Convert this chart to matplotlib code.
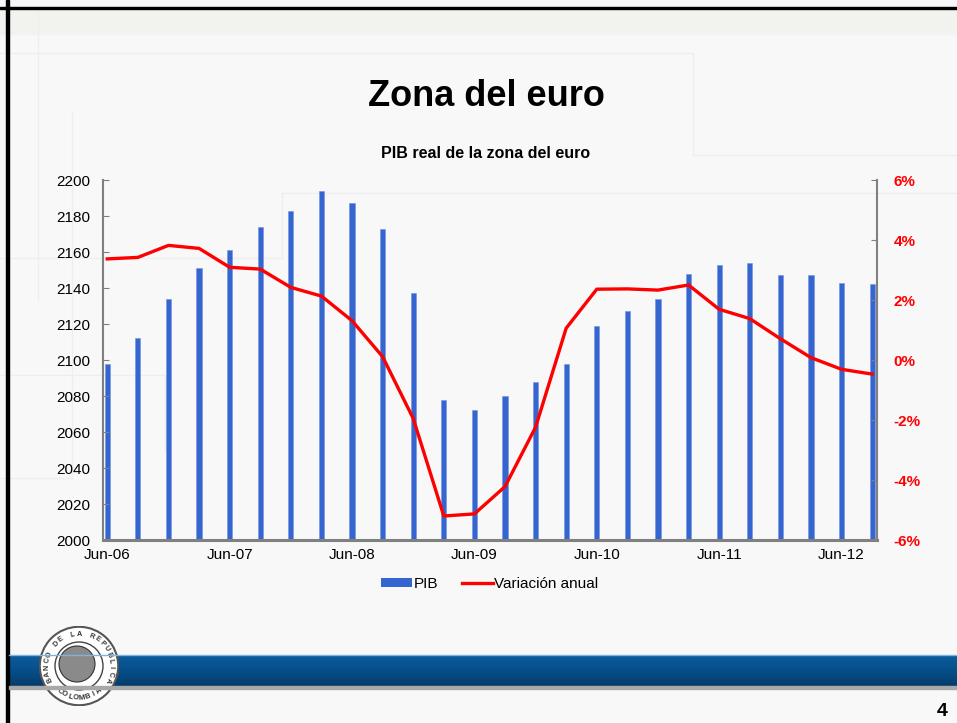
import numpy as np
import matplotlib
matplotlib.use('Agg')
import matplotlib.pyplot as plt
from matplotlib.patches import Patch, Rectangle, Circle
from matplotlib.lines import Line2D

plt.rcParams['font.family'] = ['Liberation Sans', 'DejaVu Sans']

# trimestres jun-06 .. sep-12
quarters = ['Jun-06', 'Sep-06', 'Dic-06', 'Mar-07',
            'Jun-07', 'Sep-07', 'Dic-07', 'Mar-08',
            'Jun-08', 'Sep-08', 'Dic-08', 'Mar-09',
            'Jun-09', 'Sep-09', 'Dic-09', 'Mar-10',
            'Jun-10', 'Sep-10', 'Dic-10', 'Mar-11',
            'Jun-11', 'Sep-11', 'Dic-11', 'Mar-12',
            'Jun-12', 'Sep-12']
pib = [2098, 2112, 2134, 2151, 2161, 2174, 2183, 2194, 2187, 2173,
       2137, 2078, 2072, 2080, 2088, 2098, 2119, 2127, 2134, 2148,
       2153, 2154, 2147, 2147, 2143, 2142]
variacion = [3.37, 3.42, 3.82, 3.72, 3.09, 3.03, 2.42, 2.13, 1.31, 0.11,
             -1.95, -5.2, -5.13, -4.22, -2.24, 1.06, 2.36, 2.37, 2.33, 2.5,
             1.69, 1.38, 0.71, 0.08, -0.31, -0.47]
left_ticks = list(range(2000, 2201, 20))
right_ticks = [-6, -4, -2, 0, 2, 4, 6]

W, H = 957, 723
fig = plt.figure(figsize=(W / 100, H / 100), dpi=100)
fig.patch.set_facecolor('#F8F8F8')


def fx(px):
    return px / W


def fy(py):
    return 1 - py / H


# fondo de la diapositiva
fig.add_artist(Rectangle((0, fy(34)), 1, fy(9) - fy(34), transform=fig.transFigure,
                         color='#F2F2EE', zorder=0))
faint = '#EEEEEE'
segs = [((0, 53), (693, 53)), ((693, 53), (693, 155)), ((693, 155), (957, 155)),
        ((38, 9), (38, 300)), ((72, 112), (72, 478)), ((0, 478), (72, 478)),
        ((0, 258), (282, 258)), ((282, 193), (282, 258)), ((282, 193), (957, 193)),
        ((0, 375), (165, 375)), ((165, 375), (165, 450))]
for (x0, y0), (x1, y1) in segs:
    fig.add_artist(Line2D([fx(x0), fx(x1)], [fy(y0), fy(y1)], transform=fig.transFigure,
                          color=faint, lw=1.0, zorder=0))
fig.add_artist(Rectangle((fx(6), 0), fx(3), 1, transform=fig.transFigure, color='black'))
fig.add_artist(Rectangle((0, fy(9)), 1, fy(7) - fy(9), transform=fig.transFigure, color='black'))

# banda azul inferior
band = fig.add_axes([fx(9), fy(686), 1 - fx(9), fy(655) - fy(686)])
grad = np.linspace(0, 1, 64).reshape(-1, 1)
band.imshow(grad, aspect='auto', cmap=matplotlib.colors.LinearSegmentedColormap.from_list(
    'b', ['#0B5C9E', '#074F8A', '#053C6A']), extent=(0, 1, 0, 1))
band.axis('off')
fig.add_artist(Rectangle((fx(9), fy(689)), 1, fy(686) - fy(689), transform=fig.transFigure,
                         color='#A8A8A8', zorder=1))
fig.add_artist(Line2D([fx(9), 1], [fy(655), fy(655)], transform=fig.transFigure,
                      color='#7FB4DC', lw=1))

# logo
logo = fig.add_axes([fx(38), fy(706), fx(82), fy(626) - fy(706)])
logo.set_xlim(-1, 1)
logo.set_ylim(-1, 1)
logo.set_aspect('equal')
logo.axis('off')
logo.add_patch(Circle((0, 0), 0.98, facecolor='white', edgecolor='#555555', lw=1.5))
logo.add_patch(Circle((0, 0), 0.6, facecolor='white', edgecolor='#444444', lw=1))
logo.add_patch(Circle((-0.05, 0.05), 0.45, facecolor='#8A8A8A', edgecolor='#333333', lw=0.8))
top_txt = 'BANCO DE LA REPUBLICA'
for i, ch in enumerate(top_txt):
    a = np.radians(205 - i * 230 / (len(top_txt) - 1))
    logo.text(0.8 * np.cos(a), 0.8 * np.sin(a), ch, fontsize=5.2, fontweight='bold',
              rotation=np.degrees(a) - 90, ha='center', va='center', color='#333333')
bot_txt = 'COLOMBIA'
for i, ch in enumerate(bot_txt):
    a = np.radians(232 + i * 76 / (len(bot_txt) - 1))
    logo.text(0.8 * np.cos(a), 0.8 * np.sin(a), ch, fontsize=5.5, fontweight='bold',
              rotation=np.degrees(a) + 90, ha='center', va='center', color='#333333')

fig.text(fx(942), fy(712), '4', fontsize=14, fontweight='bold', ha='center', va='center')

# titulos
fig.text(fx(486), fy(97), 'Zona del euro', fontsize=26, fontweight='bold',
         ha='center', va='center')
fig.text(fx(486), fy(153), 'PIB real de la zona del euro', fontsize=11.5,
         fontweight='bold', ha='center', va='center')

# grafico
ax = fig.add_axes([fx(103), fy(540), fx(877) - fx(103), fy(180) - fy(540)])
ax.patch.set_alpha(0)
x = np.arange(len(quarters))
ax.bar(x, pib, width=0.17, color='#3566CF', edgecolor='#6F93E0', linewidth=0.4)
ax.set_ylim(2000, 2200)
ax.set_yticks(left_ticks)
ax.set_xlim(-0.14, len(quarters) - 1 + 0.16)
ax.set_xticks(x[::4])
ax.set_xticklabels(quarters[::4])
ax.tick_params(axis='x', length=0, pad=6, labelsize=11)
ax.tick_params(axis='y', direction='in', length=4, color='#808080', pad=9, labelsize=11)
ax.spines['top'].set_visible(False)
ax.spines['right'].set_visible(False)
ax.spines['left'].set_color('#808080')
ax.spines['left'].set_linewidth(1.5)
ax.spines['bottom'].set_color('#808080')
ax.spines['bottom'].set_linewidth(2.2)

ax2 = ax.twinx()
ax2.plot(x, variacion, color='#FF0000', lw=2.4)
ax2.set_ylim(-6, 6)
ax2.set_yticks(right_ticks)
ax2.set_yticklabels([f'{t}%' for t in right_ticks], color='#FF0000', fontweight='bold')
ax2.tick_params(axis='y', direction='in', length=4, color='#808080', pad=12, labelsize=11)
for s in ['top', 'left', 'bottom']:
    ax2.spines[s].set_visible(False)
ax2.spines['right'].set_color('#808080')
ax2.spines['right'].set_linewidth(1.5)

handles = [Patch(facecolor='#3566CF', edgecolor='none'),
           Line2D([0], [0], color='#FF0000', lw=2.4)]
fig.legend(handles, ['PIB', 'Variación anual'], loc='center',
           bbox_to_anchor=(fx(490), fy(584)), ncol=2, frameon=False, fontsize=11,
           handlelength=2.0, handleheight=0.5, handletextpad=0.1, columnspacing=1.6)

fig.savefig('out.png', dpi=100, facecolor=fig.get_facecolor())
